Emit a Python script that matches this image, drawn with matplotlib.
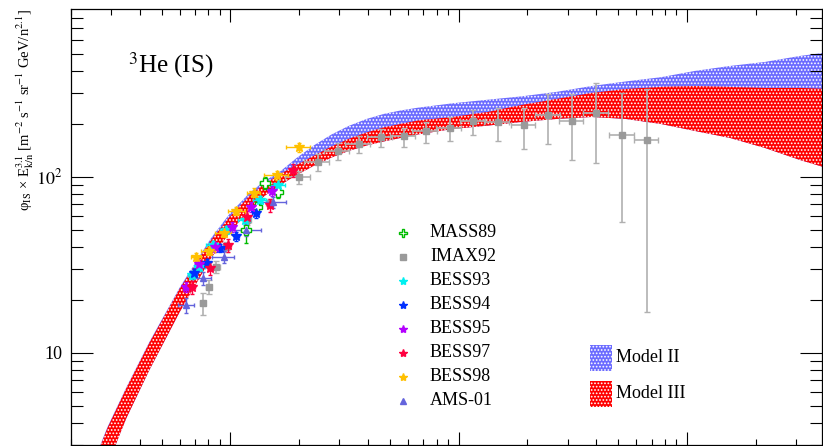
"""
3He interstellar flux (x E^3.1) vs kinetic energy per nucleon, Model II / III bands + data
"""
import numpy as np
import matplotlib.pyplot as plt
from matplotlib.patches import Rectangle

plt.rcParams['font.family'] = ['Liberation Serif', 'DejaVu Serif']
plt.rcParams['mathtext.fontset'] = 'stix'
plt.rcParams['hatch.color'] = 'white'
plt.rcParams['hatch.linewidth'] = 0.8

# --- Model bands: E_k/n [GeV/n] and lower/upper flux ---
band_E = [0.241, 0.289, 0.350, 0.441, 0.597, 0.817, 0.990, 1.211, 1.409, 1.640,
          1.948, 2.335, 2.773, 3.293, 3.950, 4.69, 5.567, 6.61, 9.41, 13.4,
          18.9, 26.9, 38.3, 54.0, 76.9, 108.4, 154.4, 219.8, 313.1, 424]
m3_hi = [2.05, 3.73, 6.30, 11.36, 22.9, 43.1, 59.0, 77.7, 90.9, 102.9,
         116.5, 132.0, 148.4, 163.8, 178.3, 190.4, 199.3, 208.5, 218.3, 233.1,
         255.5, 276.4, 299.0, 314.8, 323.4, 327.4, 323.4, 319.2, 319.2, 314.8]
m3_lo = [1.21, 2.30, 4.26, 7.97, 16.9, 34.1, 47.9, 64.7, 77.7, 89.1,
         102.2, 115.8, 128.5, 140.0, 150.4, 158.5, 166.0, 173.7, 186.6, 195.0,
         204.7, 212.8, 218.3, 212.8, 199.3, 181.9, 166.0, 145.6, 124.4, 110.6]
m2_hi = [2.10, 3.78, 6.37, 11.5, 23.3, 44.3, 61.4, 80.8, 94.5, 106.3,
         127.7, 151.4, 173.7, 194.1, 212.8, 227.1, 237.8, 246.4, 261.2, 273.6,
         286.0, 303.3, 327.4, 347.5, 367.2, 398.7, 425.6, 448.5, 485.1, 510.9]

# --- Data sets ---
mass89_E = [1.164, 1.313, 1.410, 1.607]
mass89_F = [49.8, 67.3, 92.1, 81.9]
mass89_Ferr = [8.0, 6.0, 7.0, 6.0]
mass89_Eerr = [0.05, 0.05, 0.06, 0.07]

imax92_E = [0.754, 0.801, 0.868, 0.960, 1.187, 1.483, 1.99, 2.41, 2.95, 3.64, 4.55, 5.74,
            7.17, 9.13, 11.6, 14.8, 19.3, 24.6, 31.3, 39.9, 51.9, 66.8]
imax92_F = [19.2, 23.6, 30.7, 39.9, 56.7, 70.9, 100, 121, 140, 153, 168, 170,
            182, 188, 207, 205, 196, 223, 206, 229, 173, 162]
imax92_Flo = [16.3, 21.5, 28.5, 37.5, 53, 67, 90.9, 108, 124, 137, 148, 148,
              155, 159, 172, 160, 143, 154, 124, 119, 55, 17]
imax92_Fhi = [21.8, 25.8, 33, 42.5, 60, 75, 108, 135, 155, 170, 186, 190,
              204, 218, 239, 244, 246, 293, 293, 339, 299, 313]
imax92_Eerr = [0.02, 0.02, 0.03, 0.03, 0.04, 0.05, 0.25, 0.30, 0.37, 0.45, 0.57, 0.72,
               0.90, 1.14, 1.45, 1.85, 2.4, 3.1, 3.9, 5.0, 6.5, 8.3]

bess93_E = [0.681, 0.731, 0.834, 0.960, 1.152, 1.340, 1.607]
bess93_F = [27.6, 30.7, 40.9, 49.8, 56.7, 73.8, 89.7]
bess93_Ferr = [1.5, 1.7, 2.2, 2.8, 3.3, 4.3, 5.5]
bess93_Eerr = [0.03, 0.04, 0.05, 0.06, 0.07, 0.09, 0.12]

bess94_E = [0.695, 0.785, 0.904, 1.062, 1.288]
bess94_F = [28.4, 32.4, 39.4, 46.0, 62.2]
bess94_Ferr = [1.6, 1.8, 2.2, 2.7, 3.6]
bess94_Eerr = [0.02, 0.02, 0.03, 0.03, 0.04]

bess95_E = [0.641, 0.731, 0.851, 1.020, 1.236, 1.513]
bess95_F = [23.6, 31.9, 39.9, 51.8, 67.3, 82.9]
bess95_Ferr = [1.5, 1.9, 2.4, 3.2, 4.2, 5.5]
bess95_Eerr = [0.02, 0.02, 0.03, 0.03, 0.04, 0.05]

bess97_E = [0.681, 0.817, 0.980, 1.187, 1.483, 1.871]
bess97_F = [23.6, 30.3, 40.9, 59.0, 69.1, 109.1]
bess97_Ferr = [2.0, 2.5, 3.5, 5.0, 6.0, 9.0]
bess97_Eerr = [0.02, 0.02, 0.03, 0.03, 0.04, 0.05]

bess98_E = [0.709, 0.801, 0.932, 1.062, 1.262, 1.592, 1.99]
bess98_F = [34.9, 37.8, 48.1, 63.8, 81.2, 102.3, 146.8]
bess98_Ferr = [1.9, 2.0, 2.6, 3.5, 4.5, 6.0, 9.0]
bess98_Eerr = [0.036, 0.058, 0.078, 0.09, 0.078, 0.186, 0.233]

ams01_E = [0.641, 0.754, 0.932, 1.175, 1.528]
ams01_F = [18.7, 26.6, 35.0, 49.8, 71.8]
ams01_Ferr = [1.8, 2.2, 2.8, 3.8, 5.0]
ams01_Eerr = [0.05, 0.07, 0.10, 0.18, 0.22]

# --- Plot ---
fig = plt.figure(figsize=(8.23, 4.46), dpi=100)
ax = fig.add_axes([71 / 823, 1 / 446, 751 / 823, 435.7 / 446])

# Model II underneath, Model III drawn over it (lower edge shared)
ax.fill_between(band_E, m3_lo, m2_hi, facecolor='#6b6bff', edgecolor='white',
                hatch='.....', linewidth=0, zorder=1)
ax.fill_between(band_E, m3_lo, m3_hi, facecolor='#ff0000', edgecolor='white',
                hatch='.....', linewidth=0, zorder=2)

series = [
    ('MASS89', mass89_E, mass89_F, mass89_Ferr, mass89_Eerr, 'P', '#00bb00', 'white', 6.5),
    ('BESS93', bess93_E, bess93_F, bess93_Ferr, bess93_Eerr, '*', '#00f0f0', '#00f0f0', 7),
    ('BESS94', bess94_E, bess94_F, bess94_Ferr, bess94_Eerr, '*', '#0030ff', '#0030ff', 7),
    ('BESS95', bess95_E, bess95_F, bess95_Ferr, bess95_Eerr, '*', '#b400ff', '#b400ff', 7),
    ('BESS97', bess97_E, bess97_F, bess97_Ferr, bess97_Eerr, '*', '#ff0040', '#ff0040', 7),
    ('BESS98', bess98_E, bess98_F, bess98_Ferr, bess98_Eerr, '*', '#ffc000', '#ffc000', 7),
    ('AMS-01', ams01_E, ams01_F, ams01_Ferr, ams01_Eerr, '^', '#6464dc', '#6464dc', 4.5),
]

imax_yerr = [np.subtract(imax92_F, imax92_Flo), np.subtract(imax92_Fhi, imax92_F)]
ax.errorbar(imax92_E, imax92_F, yerr=imax_yerr, xerr=imax92_Eerr, fmt='s', ms=5,
            color='#9a9a9a', ecolor='#b0b0b0', elinewidth=1.2, capsize=2, zorder=4)
for name, E, F, Ferr, Eerr, mk, col, fc, ms in series:
    ax.errorbar(E, F, yerr=Ferr, xerr=Eerr, fmt=mk, ms=ms, color=col, mfc=fc, mec=col,
                elinewidth=1, capsize=1.5, zorder=5)

# axes
ax.set_xscale('log')
ax.set_yscale('log')
ax.set_xlim(0.2, 391)
ax.set_ylim(2.99, 893)
ax.set_yticks([10, 100], labels=['10', r'$10^{2}$'])
ax.tick_params(which='both', direction='in', top=True, right=True, width=0.8, colors='black')
ax.tick_params(axis='y', which='major', length=16, labelsize=13, pad=6)
ax.tick_params(axis='y', which='minor', length=8.5)
ax.tick_params(axis='x', which='major', length=9.5, labelbottom=False)
ax.tick_params(axis='x', which='minor', length=4.5)
ax.yaxis.set_minor_formatter(plt.NullFormatter())
ax.xaxis.set_minor_formatter(plt.NullFormatter())
for s in ax.spines.values():
    s.set_linewidth(0.9)

fig.text(25 / 823, 1 - 9 / 446,
         'φ' + r'$_{\rm IS}$ × E$^{3.1}_{\rm k/n}$ [m$^{-2}$ s$^{-1}$ sr$^{-1}$ GeV/n$^{2.1}$]',
         rotation=90, ha='center', va='top', fontsize=10.5)

fig.text(128 / 823, 1 - 72 / 446, r'$^{3}$He (IS)', fontsize=18, ha='left', va='baseline')

# legends (hand-placed, in figure pixels)
def fxy(px, py):
    return px / 823, 1 - py / 446

leg_rows = [('MASS89', 'P', '#00bb00', 'white', 5.5),
            ('IMAX92', 's', '#9a9a9a', '#9a9a9a', 4.5),
            ('BESS93', '*', '#00f0f0', '#00f0f0', 6),
            ('BESS94', '*', '#0030ff', '#0030ff', 6),
            ('BESS95', '*', '#b400ff', '#b400ff', 6),
            ('BESS97', '*', '#ff0040', '#ff0040', 6),
            ('BESS98', '*', '#ffc000', '#ffc000', 6),
            ('AMS-01', '^', '#6464dc', '#6464dc', 4)]
for i, (name, mk, col, fc, ms) in enumerate(leg_rows):
    y = 232.5 + 24.0 * i
    mx, my = fxy(403, y)
    fig.lines.append(plt.Line2D([mx], [my], marker=mk, ms=ms, color=col, mfc=fc, mec=col,
                                ls='none', transform=fig.transFigure))
    tx, ty = fxy(430, y)
    fig.text(tx, ty, name, fontsize=13, ha='left', va='center')

for j, (name, col) in enumerate([('Model II', '#6b6bff'), ('Model III', '#ff0000')]):
    top = 345 + 36 * j
    x0, y0 = fxy(590, top + 26)
    fig.patches.append(Rectangle((x0, y0), 22 / 823, 26 / 446, transform=fig.transFigure,
                                 facecolor=col, edgecolor='white', hatch='.....', linewidth=0))
    tx, ty = fxy(616, top + 12)
    fig.text(tx, ty, name, fontsize=13, ha='left', va='center')

plt.savefig('out.png', dpi=100)
plt.close()
print("Done: out.png")
